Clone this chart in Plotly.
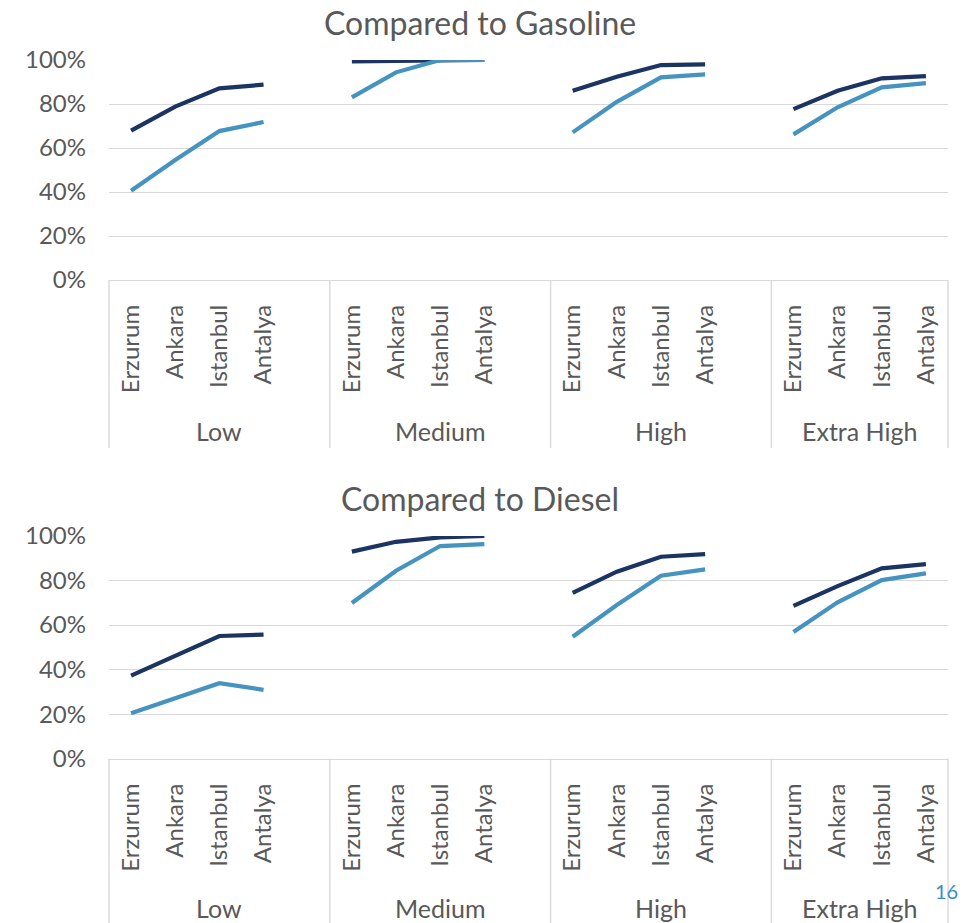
import plotly.graph_objects as go

# ---- data -------------------------------------------------------------
groups = ["Low", "Medium", "High", "Extra High"]
cities = ["Erzurum", "Ankara", "Istanbul", "Antalya"]

# Share relative to gasoline, one list per consumption group
gas_navy_low = [0.679, 0.788, 0.871, 0.888]
gas_navy_medium = [0.994, 0.997, 1.000, 1.000]
gas_navy_high = [0.860, 0.924, 0.977, 0.980]
gas_navy_xhigh = [0.777, 0.860, 0.917, 0.927]

gas_blue_low = [0.406, 0.545, 0.677, 0.718]
gas_blue_medium = [0.830, 0.944, 1.000, 1.000]
gas_blue_high = [0.671, 0.810, 0.921, 0.935]
gas_blue_xhigh = [0.662, 0.785, 0.876, 0.895]

# Share relative to diesel
dsl_navy_low = [0.373, 0.463, 0.551, 0.557]
dsl_navy_medium = [0.930, 0.974, 0.994, 1.000]
dsl_navy_high = [0.745, 0.840, 0.907, 0.919]
dsl_navy_xhigh = [0.686, 0.775, 0.855, 0.874]

dsl_blue_low = [0.204, 0.273, 0.339, 0.309]
dsl_blue_medium = [0.699, 0.844, 0.955, 0.964]
dsl_blue_high = [0.548, 0.690, 0.822, 0.850]
dsl_blue_xhigh = [0.569, 0.702, 0.802, 0.832]

y_ticks = [0, 0.2, 0.4, 0.6, 0.8, 1.0]

# ---- styling ----------------------------------------------------------
W, H = 962, 923
NAVY = "#1b3462"
BLUE = "#4693c0"
GRID = "#d9d9d9"
TEXT = "#595959"
FONT = "Lato"
SLOTS_PER_GROUP = 5          # four cities plus a spacer slot
N_SLOTS = SLOTS_PER_GROUP * (len(groups) - 1) + len(cities)


def py(p):
    """Pixel row -> paper y."""
    return 1 - p / H


def px(p):
    """Pixel column -> paper x."""
    return p / W


def slot(g, i):
    return g * SLOTS_PER_GROUP + i


panels = [
    dict(title="Compared to Gasoline", xa="x", ya="y", top=60, bottom=280,
         group_label_offset=151,
         navy=[gas_navy_low, gas_navy_medium, gas_navy_high, gas_navy_xhigh],
         blue=[gas_blue_low, gas_blue_medium, gas_blue_high, gas_blue_xhigh]),
    dict(title="Compared to Diesel", xa="x2", ya="y2", top=536, bottom=758.7,
         group_label_offset=149,
         navy=[dsl_navy_low, dsl_navy_medium, dsl_navy_high, dsl_navy_xhigh],
         blue=[dsl_blue_low, dsl_blue_medium, dsl_blue_high, dsl_blue_xhigh]),
]

fig = go.Figure()
annotations = []
shapes = []

tickvals = [slot(g, i) for g in range(len(groups)) for i in range(len(cities))]
ticktext = [c for _ in groups for c in cities]

for k, p in enumerate(panels):
    for series, color in ((p["navy"], NAVY), (p["blue"], BLUE)):
        for g, vals in enumerate(series):
            fig.add_trace(go.Scatter(
                x=[slot(g, i) for i in range(len(vals))], y=vals,
                mode="lines", line=dict(color=color, width=4.2),
                xaxis=p["xa"], yaxis=p["ya"], cliponaxis=False,
                showlegend=False, hoverinfo="skip"))

    suffix = "" if k == 0 else "2"
    fig.update_layout(**{
        "xaxis" + suffix: dict(
            domain=[px(109), px(948)], range=[-0.5, N_SLOTS - 0.5],
            tickmode="array", tickvals=tickvals, ticktext=ticktext,
            tickangle=-90, ticks="", ticklabelstandoff=14,
            tickfont=dict(family=FONT, size=24, color=TEXT),
            showgrid=False, zeroline=False, showline=True,
            linecolor=GRID, linewidth=1.4, anchor="y" + suffix,
            automargin=False, fixedrange=True),
        "yaxis" + suffix: dict(
            domain=[py(p["bottom"]), py(p["top"])], range=[0, 1.0001],
            tickmode="array", tickvals=y_ticks, tickformat=".0%",
            ticks="", ticklabelstandoff=22,
            tickfont=dict(family=FONT, size=24, color=TEXT),
            showgrid=True, gridcolor=GRID, gridwidth=1.4,
            zeroline=False, showline=False, anchor="x" + suffix,
            automargin=False, fixedrange=True),
    })

    # chart title
    annotations.append(dict(
        text=p["title"], xref="paper", yref="paper",
        x=px(480), y=py(p["top"] - 38), xanchor="center", yanchor="middle",
        showarrow=False, font=dict(family=FONT, size=32, color=TEXT)))

    # group dividers and group labels below the city labels
    div_bottom = p["bottom"] + 168
    bounds = [-0.5] + [slot(g, 0) - 0.5 for g in range(1, len(groups))] + [N_SLOTS - 0.5]
    for b in bounds:
        xf = (b + 0.5) / N_SLOTS
        shapes.append(dict(
            type="line", xref=p["xa"] + " domain", yref="paper",
            x0=xf, x1=xf, y0=py(p["bottom"]), y1=py(div_bottom),
            line=dict(color=GRID, width=1.4), layer="below"))
    for g, name in enumerate(groups):
        centre = (bounds[g] + bounds[g + 1]) / 2
        annotations.append(dict(
            text=name, xref=p["xa"], yref="paper",
            x=centre, y=py(p["bottom"] + p["group_label_offset"]),
            xanchor="center", yanchor="middle", showarrow=False,
            font=dict(family=FONT, size=25, color=TEXT)))

# page number
annotations.append(dict(
    text="16", xref="paper", yref="paper", x=px(946), y=py(891),
    xanchor="center", yanchor="middle", showarrow=False,
    font=dict(family=FONT, size=20, color="#3b8dc4")))

fig.update_layout(
    width=W, height=H, margin=dict(l=0, r=0, t=0, b=0),
    paper_bgcolor="white", plot_bgcolor="white",
    annotations=annotations, shapes=shapes, showlegend=False)

fig.write_html("out.html")
